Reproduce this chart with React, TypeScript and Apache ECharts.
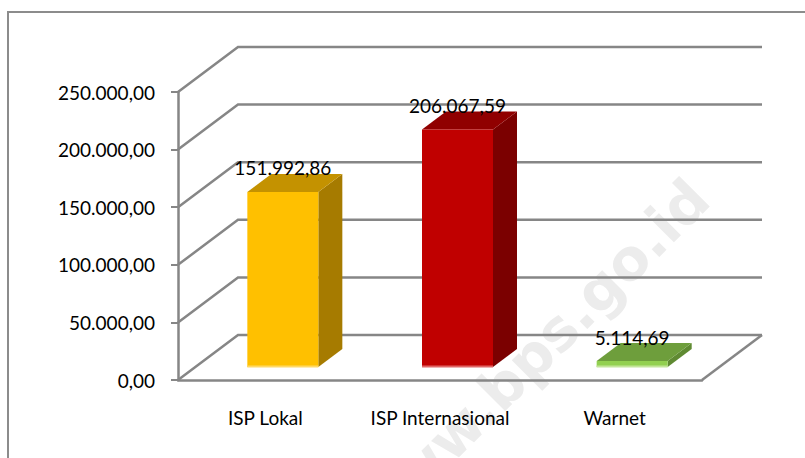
import React, { useEffect, useRef } from "react";
import * as echarts from "echarts";

const categories = ["ISP Lokal", "ISP Internasional", "Warnet"];
const values = [151992.86, 206067.59, 5114.69];
const gridValues = [0, 50000, 100000, 150000, 200000, 250000];
const frontColors = ["#FFC000", "#C00000", "#92D050"];
const topColors = ["#C49200", "#900000", "#6E9E3C"];
const sideColors = ["#A67B00", "#7B0000", "#5F8A32"];
const edgeColors = ["#FFD966", "#E06666", "#C3E59A"];
const watermark = "www.bps.go.id";

const GRID = "#868686";
const FONT = "Lato, 'Open Sans', sans-serif";
const WALL_DX = 60;
const WALL_DY = 45;
const BAR_OFFSET_X = 17.5;
const BAR_OFFSET_Y = 13;
const BAR_WIDTH = 71;
const BAR_DX = 24;
const BAR_DY = 18;

const fmt = (v: number) =>
  v.toLocaleString("de-DE", { minimumFractionDigits: 2, maximumFractionDigits: 2 });

export default function App() {
  const ref = useRef<HTMLDivElement>(null);
  useEffect(() => {
    const chart = echarts.init(ref.current!, undefined, { renderer: "svg" });
    const lineStyle = { stroke: GRID, lineWidth: 2.5, fill: "none" };
    chart.setOption({
      animation: false,
      backgroundColor: "#fff",
      grid: { left: 178, right: 103, top: 92, bottom: 78, containLabel: false },
      graphic: [
        {
          type: "polyline",
          z: -20,
          shape: { points: [[8, 458], [8, 12], [805, 12]] },
          style: { stroke: "#8C8C8C", lineWidth: 2, fill: "none" },
        },
        {
          type: "text",
          z: -20,
          x: 699,
          y: 189,
          rotation: Math.PI / 4,
          style: {
            text: watermark,
            fill: "#ECECEC",
            font: "bold 57px 'DejaVu Sans', sans-serif",
            textAlign: "right",
            textVerticalAlign: "middle",
          },
        },
      ],
      xAxis: {
        type: "category",
        data: categories,
        axisLine: { lineStyle: { color: GRID, width: 2.5 } },
        axisTick: { length: 7, lineStyle: { color: GRID, width: 2 } },
        axisLabel: { color: "#000", fontFamily: FONT, fontSize: 19, margin: 28, interval: 0, hideOverlap: false },
      },
      yAxis: {
        type: "value",
        min: 0,
        max: 250000,
        interval: 50000,
        splitLine: { show: false },
        axisLine: { show: true, lineStyle: { color: GRID, width: 2.5 } },
        axisTick: { show: true, length: 7, lineStyle: { color: GRID, width: 2 } },
        axisLabel: { color: "#000", fontFamily: FONT, fontSize: 19, margin: 23, padding: [3, 0, 0, 0], formatter: (v: number) => fmt(v) },
      },
      series: [
        {
          type: "custom",
          z: 1,
          clip: false,
          silent: true,
          data: gridValues.map((v) => [0, v]),
          encode: { x: 0, y: 1 },
          renderItem: (params: any, api: any) => {
            const y = api.coord([0, api.value(1)])[1];
            const cs = params.coordSys;
            const x0 = cs.x;
            const x1 = cs.x + cs.width;
            const children: any[] = [
              { type: "polyline", shape: { points: [[x0, y], [x0 + WALL_DX, y - WALL_DY], [x1 + WALL_DX, y - WALL_DY]] }, style: lineStyle },
            ];
            if (api.value(1) === 0) {
              children.push({ type: "line", shape: { x1, y1: y, x2: x1 + WALL_DX, y2: y - WALL_DY }, style: lineStyle });
            }
            return { type: "group", children };
          },
        },
        {
          type: "custom",
          z: 3,
          clip: false,
          silent: true,
          data: values.map((v, i) => [i, v]),
          encode: { x: 0, y: 1 },
          renderItem: (_params: any, api: any) => {
            const i = api.value(0);
            const v = api.value(1);
            const base = api.coord([i, 0]);
            const top = api.coord([i, v]);
            const l = base[0] + BAR_OFFSET_X - BAR_WIDTH / 2;
            const r = l + BAR_WIDTH;
            const b = base[1] - BAR_OFFSET_Y;
            const t = top[1] - BAR_OFFSET_Y;
            return {
              type: "group",
              children: [
                { type: "polygon", shape: { points: [[r, t], [r + BAR_DX, t - BAR_DY], [r + BAR_DX, b - BAR_DY], [r, b]] }, style: { fill: sideColors[i] } },
                { type: "polygon", shape: { points: [[l, t], [l + BAR_DX, t - BAR_DY], [r + BAR_DX, t - BAR_DY], [r, t]] }, style: { fill: topColors[i] } },
                { type: "rect", shape: { x: l, y: t, width: BAR_WIDTH, height: b - t }, style: { fill: frontColors[i] } },
                { type: "rect", shape: { x: l, y: b - 1.5, width: BAR_WIDTH, height: 2 }, style: { fill: edgeColors[i] } },
                {
                  type: "text",
                  x: l + BAR_WIDTH / 2,
                  y: t - 24,
                  style: { text: fmt(v), fill: "#000", font: `19px ${FONT}`, textAlign: "center", textVerticalAlign: "middle" },
                },
              ],
            };
          },
        },
      ],
    });
    return () => chart.dispose();
  }, []);
  return <div ref={ref} style={{ position: "fixed", left: 0, top: 0, width: 805, height: 458 }} />;
}
